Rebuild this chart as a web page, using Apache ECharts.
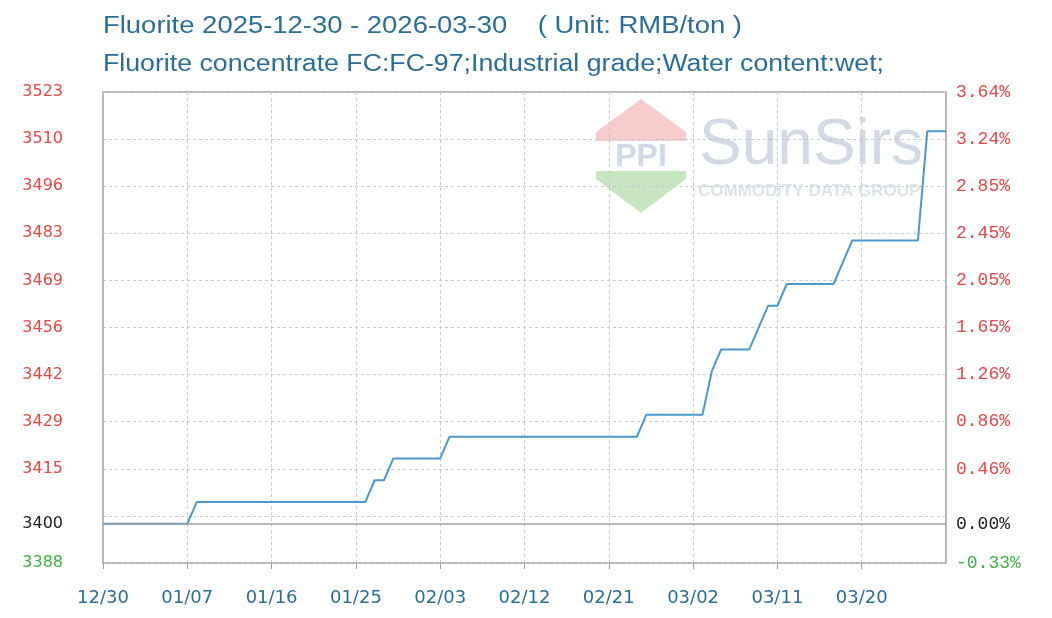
<!DOCTYPE html>
<html><head><meta charset="utf-8">
<script src="https://cdn.jsdelivr.net/npm/echarts@6/dist/echarts.min.js"></script>
<style>html,body{margin:0;padding:0;background:#fff}#c{width:1052px;height:618px}</style>
</head><body><div id="c"></div>
<script>
// ---- text ----
const titleLine1 = 'Fluorite 2025-12-30 - 2026-03-30    ( Unit: RMB/ton )';
const titleLine2 = 'Fluorite concentrate FC:FC-97;Industrial grade;Water content:wet;';

// ---- axes ----
const baseValue = 3400;
const yMin = 3388.78;
const yMax = 3523.78;
const yGridValues = [3388.78, 3402.28, 3415.78, 3429.28, 3442.78, 3456.28, 3469.78, 3483.28, 3496.78, 3510.28, 3523.78];
const yLabelValues = [3388.78, 3400, 3415.78, 3429.28, 3442.78, 3456.28, 3469.78, 3483.28, 3496.78, 3510.28, 3523.78];
const leftLabels  = ['3388', '3400', '3415', '3429', '3442', '3456', '3469', '3483', '3496', '3510', '3523'];
const rightLabels = ['-0.33%', '0.00%', '0.46%', '0.86%', '1.26%', '1.65%', '2.05%', '2.45%', '2.85%', '3.24%', '3.64%'];
const xTickLabels = ['12/30', '01/07', '01/16', '01/25', '02/03', '02/12', '02/21', '03/02', '03/11', '03/20'];
const xTickStep = 9;

// ---- data (RMB/ton) ----
const prices = [
  3400, 3400, 3400, 3400, 3400, 3400, 3400, 3400, 3400, 3400,
  3406.25, 3406.25, 3406.25, 3406.25, 3406.25, 3406.25, 3406.25, 3406.25, 3406.25, 3406.25,
  3406.25, 3406.25, 3406.25, 3406.25, 3406.25, 3406.25, 3406.25, 3406.25, 3406.25,
  3412.5, 3412.5,
  3418.75, 3418.75, 3418.75, 3418.75, 3418.75, 3418.75,
  3425, 3425, 3425, 3425, 3425, 3425, 3425, 3425, 3425, 3425,
  3425, 3425, 3425, 3425, 3425, 3425, 3425, 3425, 3425, 3425, 3425,
  3431.25, 3431.25, 3431.25, 3431.25, 3431.25, 3431.25, 3431.25,
  3443.75,
  3450, 3450, 3450, 3450,
  3456.25,
  3462.5, 3462.5,
  3468.75, 3468.75, 3468.75, 3468.75, 3468.75, 3468.75,
  3475,
  3481.25, 3481.25, 3481.25, 3481.25, 3481.25, 3481.25, 3481.25, 3481.25,
  3512.5, 3512.5, 3512.5
];

// category dates (one per point)
const dates = prices.map((_, i) => {
  const d = new Date(Date.UTC(2025, 11, 29) + i * 86400000);
  return String(d.getUTCMonth() + 1).padStart(2, '0') + '/' + String(d.getUTCDate()).padStart(2, '0');
});

function labelIndex(v) {
  let best = 0;
  yLabelValues.forEach((t, i) => { if (Math.abs(t - v) < Math.abs(yLabelValues[best] - v)) best = i; });
  return best;
}
function styleKey(v) {
  if (Math.abs(v - baseValue) < 0.5) return 'k';
  return v < baseValue ? 'g' : 'r';
}
const showTick = (idx) => idx % xTickStep === 0 && idx / xTickStep < xTickLabels.length;

// measure title to fit the reference's condensed width
const mctx = document.createElement('canvas').getContext('2d');
const titleFont = '23px "Liberation Sans"';
mctx.font = titleFont;
const sx1 = 639 / mctx.measureText(titleLine1).width;
const sx2 = 781 / mctx.measureText(titleLine2).width;

const titleColor = '#2a6e96';
const rich = {
  r: { color: '#e84545' },
  k: { color: '#222222' },
  g: { color: '#3db043' }
};

const chart = echarts.init(document.getElementById('c'), null, { renderer: 'canvas' });
chart.setOption({
  animation: false,
  backgroundColor: '#ffffff',
  grid: { left: 103, right: 106, top: 92, bottom: 55, show: true, borderColor: '#a0a0a0', borderWidth: 1.5, backgroundColor: 'transparent' },
  graphic: [
    { type: 'text', x: 103, y: 27, scaleX: sx1, style: { text: titleLine1, font: titleFont, fill: titleColor, textVerticalAlign: 'middle' } },
    { type: 'text', x: 103, y: 65, scaleX: sx2, style: { text: titleLine2, font: titleFont, fill: titleColor, textVerticalAlign: 'middle' } },
    // watermark
    { type: 'polygon', z: 0, shape: { points: [[641, 99], [596, 132], [596, 141], [686, 141], [686, 132]] }, style: { fill: '#f6cccc' } },
    { type: 'text', z: 0, x: 641, y: 157, style: { text: 'PPI', font: 'bold 32px "Liberation Sans"', fill: '#d0d9e7', align: 'center', verticalAlign: 'middle' } },
    { type: 'polygon', z: 0, shape: { points: [[596, 171], [686, 171], [686, 179], [641, 213], [596, 179]] }, style: { fill: '#c8e5c2' } },
    { type: 'text', z: 0, x: 699, y: 146, style: { text: 'SunSirs', font: '64px "Liberation Sans"', fill: '#d3dae3', verticalAlign: 'middle' } },
    { type: 'text', z: 0, x: 698, y: 191, style: { text: 'COMMODITY DATA GROUP', font: 'bold 17px "Liberation Sans"', fill: '#dfe3e8', verticalAlign: 'middle' } }
  ],
  xAxis: {
    type: 'category',
    data: dates,
    boundaryGap: false,
    axisLine: { show: false },
    axisTick: { show: true, interval: (i) => showTick(i), length: 6, lineStyle: { color: '#a0a0a0', width: 1 } },
    axisLabel: {
      interval: (i) => showTick(i),
      formatter: (v, i) => xTickLabels[Math.round(i / xTickStep)] || '',
      color: '#2a6e96', fontFamily: 'DejaVu Sans', fontSize: 18, margin: 26
    },
    splitLine: { show: true, interval: (i) => showTick(i) && i > 0, lineStyle: { color: '#c8c8c8', type: [3, 3], width: 1 } }
  },
  yAxis: [
    {
      type: 'value', min: yMin, max: yMax, position: 'left',
      axisLine: { show: false },
      axisTick: { show: false, customValues: yGridValues },
      splitLine: { show: true, lineStyle: { color: '#c8c8c8', type: [3, 3], width: 1 } },
      axisLabel: {
        customValues: yLabelValues,
        margin: 40,
        fontFamily: 'DejaVu Sans', fontSize: 16,
        formatter: (v) => '{' + styleKey(v) + '|' + leftLabels[labelIndex(v)] + '}',
        rich: rich
      }
    },
    {
      type: 'value', min: yMin, max: yMax, position: 'right',
      axisLine: { show: false },
      axisTick: { show: false, customValues: yGridValues },
      splitLine: { show: false },
      axisLabel: {
        customValues: yLabelValues,
        margin: 10,
        fontFamily: 'Liberation Mono', fontSize: 18,
        formatter: (v) => '{' + styleKey(v) + '|' + rightLabels[labelIndex(v)] + '}',
        rich: rich
      }
    }
  ],
  series: [
    {
      type: 'line', z: 1, data: [], silent: true,
      markLine: {
        silent: true, symbol: 'none', label: { show: false },
        lineStyle: { color: '#a0a0a0', type: 'solid', width: 1.5 },
        data: [{ yAxis: baseValue }]
      }
    },
    {
      type: 'line', z: 3, data: prices, showSymbol: false, symbol: 'none',
      lineStyle: { color: '#4a98cc', width: 2 },
      itemStyle: { color: '#4a98cc' }
    }
  ]
});
</script></body></html>
